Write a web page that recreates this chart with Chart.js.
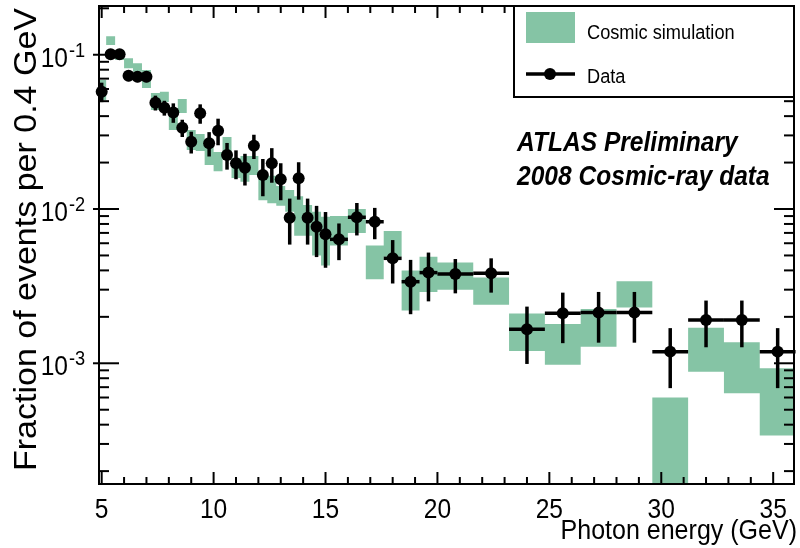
<!DOCTYPE html>
<html>
<head>
<meta charset="utf-8">
<script src="https://cdn.jsdelivr.net/npm/chart.js@4/dist/chart.umd.min.js"></script>
<style>
html, body { margin: 0; padding: 0; background: #fff; }
#wrap { width: 800px; height: 548px; }
</style>
</head>
<body>
<div id="wrap"><canvas id="spectrum" width="800" height="548"></canvas></div>
<script>
// simulation histogram: bin edges (GeV) and band limits per bin
const simEdges = [4.8, 5.2, 5.6, 6.0, 6.4, 6.8, 7.2, 7.6, 8.0, 8.4, 8.8, 9.2, 9.6, 10.0, 10.4, 10.8,
    11.2, 11.6, 12.0, 12.4, 12.8, 13.2, 13.6, 14.0, 14.4, 14.8, 15.2, 16.0, 16.8, 17.6, 18.4, 19.2,
    20.0, 21.6, 23.2, 24.8, 26.4, 28.0, 29.6, 31.2, 32.8, 34.4, 36.0];
const simHigh = [0.0686, 0.132, 0.107, 0.0948, 0.088, 0.0796, 0.0565, 0.0575, 0.0432, 0.0516, 0.0325,
    0.0306, 0.0276, 0.0234, 0.0293, 0.0214, 0.0221, 0.0221, 0.0174, 0.0164, 0.0141, 0.0133, 0.0121,
    0.0106, 0.0096, 0.0089, 0.0090, 0.0100, 0.0058, 0.0072, 0.0040, 0.0049, 0.0045, 0.0036, 0.0021,
    0.0018, 0.00225, 0.0034, 0.0006, 0.0017, 0.00137, 0.00093];
const simLow = [0.0509, 0.1156, 0.0924, 0.0817, 0.0776, 0.0608, 0.0438, 0.0494, 0.0325, 0.0419, 0.0241,
    0.0238, 0.0193, 0.0176, 0.0211, 0.0159, 0.0150, 0.0166, 0.0114, 0.0109, 0.0105, 0.0096, 0.0067,
    0.0067, 0.0050, 0.0043, 0.0058, 0.0070, 0.0035, 0.0049, 0.0022, 0.0029, 0.0030, 0.0024, 0.0012,
    0.00098, 0.00128, 0.0023, 0.00005, 0.00088, 0.00064, 0.00034];

// data points: bin centre, half bin width, value, stat. error
const dataX = [5.0, 5.4, 5.8, 6.2, 6.6, 7.0, 7.4, 7.8, 8.2, 8.6, 9.0, 9.4, 9.8, 10.2, 10.6, 11.0, 11.4,
    11.8, 12.2, 12.6, 13.0, 13.4, 13.8, 14.2, 14.6, 15.0, 15.6, 16.4, 17.2, 18.0, 18.8, 19.6, 20.8,
    22.4, 24.0, 25.6, 27.2, 28.8, 30.4, 32.0, 33.6, 35.2];
const dataXerr = [0.2, 0.2, 0.2, 0.2, 0.2, 0.2, 0.2, 0.2, 0.2, 0.2, 0.2, 0.2, 0.2, 0.2, 0.2, 0.2, 0.2,
    0.2, 0.2, 0.2, 0.2, 0.2, 0.2, 0.2, 0.2, 0.2, 0.4, 0.4, 0.4, 0.4, 0.4, 0.4, 0.8, 0.8, 0.8, 0.8,
    0.8, 0.8, 0.8, 0.8, 0.8, 0.8];
const dataY = [0.0576, 0.1006, 0.1006, 0.0731, 0.0720, 0.0720, 0.0489, 0.0453, 0.0423, 0.0336, 0.0273,
    0.0417, 0.0267, 0.0322, 0.0224, 0.0198, 0.0185, 0.0257, 0.0166, 0.0198, 0.0156, 0.00878, 0.0158,
    0.00878, 0.00768, 0.00686, 0.00636, 0.00884, 0.00827, 0.00479, 0.00338, 0.00387, 0.00379, 0.00383,
    0.00166, 0.00211, 0.00213, 0.00213, 0.00119, 0.00191, 0.00191, 0.00119];
const dataErr = [0.0083, 0.0062, 0.0062, 0.0057, 0.0056, 0.0056, 0.0054, 0.0050, 0.0061, 0.0043, 0.0044,
    0.0060, 0.0048, 0.0063, 0.0044, 0.0042, 0.0043, 0.0046, 0.0045, 0.0050, 0.0042, 0.0029, 0.0043,
    0.0029, 0.0028, 0.0027, 0.0017, 0.0021, 0.0019, 0.0015, 0.0013, 0.00135, 0.00095, 0.00096,
    0.00067, 0.00076, 0.00077, 0.00077, 0.0005, 0.00064, 0.00064, 0.0005];

// axis labels
const xTicks = [5, 10, 15, 20, 25, 30, 35];
const yTicks = [0.1, 0.01, 0.001];
const yTickExp = ['-1', '-2', '-3'];

const GREEN = '#85c4a5';
const FONT = '"Liberation Sans", Arial, Helvetica, sans-serif';
const SX = 0.91; // the picture's text is a bit narrow

function bandPoints(vals) {
    let pts = vals.map((v, i) => ({ x: simEdges[i], y: v }));
    pts.push({ x: simEdges[simEdges.length - 1], y: vals[vals.length - 1] });
    return pts;
}

function text(ctx, s, x, y, size, align, style, rot) {
    ctx.save();
    ctx.font = (style ? style + ' ' : '') + size + 'px ' + FONT;
    ctx.fillStyle = '#000';
    ctx.textAlign = align || 'left';
    ctx.textBaseline = 'alphabetic';
    ctx.translate(x, y);
    if (rot) {
        ctx.rotate(rot);
        ctx.scale(1, SX);
    } else {
        ctx.scale(SX, 1);
    }
    ctx.fillText(s, 0, 0);
    ctx.restore();
}

function seg(ctx, x1, y1, x2, y2) {
    ctx.beginPath();
    ctx.moveTo(x1, y1);
    ctx.lineTo(x2, y2);
    ctx.stroke();
}

// error bars on the data points
const errorBars = {
    id: 'errorBars',
    afterDatasetsDraw(chart) {
        const ctx = chart.ctx, xs = chart.scales.x, ys = chart.scales.y;
        ctx.save();
        ctx.strokeStyle = '#000';
        ctx.lineWidth = 3.5;
        for (let i = 0; i < dataX.length; i++) {
            const px = xs.getPixelForValue(dataX[i]);
            const py = ys.getPixelForValue(dataY[i]);
            seg(ctx, px, ys.getPixelForValue(dataY[i] - dataErr[i]), px, ys.getPixelForValue(dataY[i] + dataErr[i]));
            seg(ctx, xs.getPixelForValue(dataX[i] - dataXerr[i]), py, xs.getPixelForValue(dataX[i] + dataXerr[i]), py);
        }
        ctx.restore();
    }
};

// ROOT style frame, ticks, labels, legend
const frame = {
    id: 'frame',
    afterDraw(chart) {
        const ctx = chart.ctx, xs = chart.scales.x, ys = chart.scales.y, a = chart.chartArea;
        ctx.save();
        ctx.strokeStyle = '#000';
        ctx.lineWidth = 2;
        for (let v = 5; v <= 35; v++) {
            const px = xs.getPixelForValue(v);
            const len = v % 5 === 0 ? 12 : 7;
            seg(ctx, px, a.bottom, px, a.bottom - len);
            seg(ctx, px, a.top, px, a.top + len);
        }
        for (let e = -4; e <= -1; e++) {
            for (let m = 1; m <= 9; m++) {
                const v = m * Math.pow(10, e);
                if (v < ys.min || v > ys.max) continue;
                const py = ys.getPixelForValue(v);
                const len = m === 1 ? 20 : 10;
                seg(ctx, a.left - (m === 1 ? 6 : 0), py, a.left + len, py);
                seg(ctx, a.right, py, a.right - len, py);
            }
        }
        ctx.strokeRect(a.left, a.top, a.right - a.left, a.bottom - a.top);

        xTicks.forEach(v => text(ctx, String(v), xs.getPixelForValue(v), 518, 27, 'center'));
        yTicks.forEach((v, i) => {
            const py = ys.getPixelForValue(v);
            text(ctx, '10', 68, py + 12, 27, 'right');
            text(ctx, yTickExp[i], 69, py + 2, 20, 'left');
        });
        text(ctx, 'Photon energy (GeV)', 797, 539, 27.5, 'right');
        text(ctx, 'Fraction of events per 0.4 GeV', 36, 8, 34, 'right', '', -Math.PI / 2);

        // legend box
        ctx.fillStyle = '#fff';
        ctx.fillRect(514, a.top, a.right - 514, 91);
        ctx.strokeRect(514, a.top, a.right - 514, 91);
        ctx.fillStyle = GREEN;
        ctx.fillRect(526, 12, 49, 31);
        ctx.lineWidth = 3.5;
        seg(ctx, 526, 74, 575, 74);
        ctx.fillStyle = '#000';
        ctx.beginPath();
        ctx.arc(550, 74, 6, 0, Math.PI * 2);
        ctx.fill();
        text(ctx, 'Cosmic simulation', 587, 39, 20);
        text(ctx, 'Data', 587, 83, 20);

        text(ctx, 'ATLAS Preliminary', 517, 151, 27, 'left', 'italic bold');
        text(ctx, '2008 Cosmic-ray data', 517, 185, 27, 'left', 'italic bold');
        ctx.restore();
    }
};

new Chart(document.getElementById('spectrum'), {
    type: 'scatter',
    data: {
        datasets: [{
            label: 'Data',
            data: dataX.map((x, i) => ({ x: x, y: dataY[i] })),
            pointRadius: 6,
            pointBackgroundColor: '#000',
            pointBorderWidth: 0,
            clip: false,
            order: 0
        }, {
            type: 'line',
            label: 'sim low',
            data: bandPoints(simLow),
            stepped: true,
            borderWidth: 0,
            pointRadius: 0,
            fill: false,
            order: 1
        }, {
            type: 'line',
            label: 'Cosmic simulation',
            data: bandPoints(simHigh),
            stepped: true,
            borderWidth: 0,
            pointRadius: 0,
            backgroundColor: GREEN,
            fill: '-1',
            order: 2
        }]
    },
    options: {
        responsive: false,
        animation: false,
        events: [],
        layout: { padding: { top: 6, right: 2, left: 0, bottom: 0 } },
        plugins: { legend: { display: false }, tooltip: { enabled: false } },
        scales: {
            x: {
                type: 'linear', min: 4.88, max: 35.93,
                grid: { display: false }, border: { display: false },
                ticks: { display: false },
                afterFit: s => { s.height = 64; }
            },
            y: {
                type: 'logarithmic', min: 1.65e-4, max: 0.207,
                grid: { display: false }, border: { display: false },
                ticks: { display: false },
                afterFit: s => { s.width = 99; }
            }
        }
    },
    plugins: [errorBars, frame]
});
</script>
</body>
</html>
